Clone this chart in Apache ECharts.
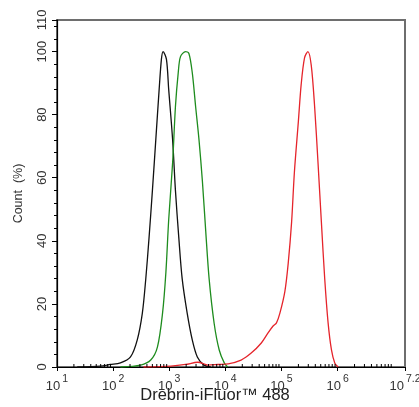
<!DOCTYPE html>
<html>
<head>
<meta charset="utf-8">
<script src="https://cdn.jsdelivr.net/npm/echarts@6/dist/echarts.min.js"></script>
<style>html,body{margin:0;padding:0;background:#fff;}#c{width:419px;height:407px;}</style>
</head>
<body>
<div id="c"></div>
<script>
// x values are log10(fluorescence intensity)
var blackX = [1.36,1.77,1.95,2.13,2.31,2.43,2.52,2.58,2.64,2.70,2.76,2.82,2.86,2.89,2.95,2.99,3.06,3.11,3.17,3.23,3.32,3.41,3.50,3.62,3.74];
var blackY = [0,0.3,0.8,1.3,3.2,8.6,17,27.6,41,56,72,88,97.5,100,97.5,88,72,56,41,28,17,8.6,3.2,0.6,0];
var greenX = [2.13,2.49,2.67,2.79,2.88,2.94,2.99,3.06,3.11,3.16,3.20,3.29,3.35,3.41,3.47,3.53,3.59,3.65,3.71,3.80,3.89,3.98,4.04];
var greenY = [0,0.6,2.2,6.4,17,30,46.7,64.8,82.5,93.3,98.4,100,99.4,93.3,82.5,72,59,43,28,13.8,5.4,1.3,0];
var redX = [2.54,3.03,3.29,3.51,3.69,3.87,4.05,4.28,4.46,4.64,4.76,4.85,4.91,4.97,5.06,5.12,5.18,5.23,5.30,5.35,5.41,5.47,5.53,5.59,5.65,5.71,5.77,5.83,5.89,5.95,6.01];
var redY = [0,0.3,0.8,1.5,0.6,0.8,1.0,2.2,4.4,7.6,10.8,13,14,17,24,33,46,61.9,77.8,89.5,98,100,95.6,82.5,64.8,46,27.9,14,5.4,1.2,0];
var xTickExps = [1,2,3,4,5,6,7.2];
var yTicks = [0,20,40,60,80,100,110];
var xMinorTicks = [];
for (var n = 1; n <= 7; n++) {
  for (var k = 2; k <= 9; k++) {
    var v = n + Math.log10(k);
    if (v < 7.2) xMinorTicks.push(v);
  }
}

function pairs(xs, ys) { return xs.map(function (x, i) { return [x, ys[i]]; }); }

var chart = echarts.init(document.getElementById('c'));
var font = 'Liberation Sans, Arial, sans-serif';
chart.setOption({
  animation: false,
  grid: { left: 57, right: 14, top: 20, bottom: 40, show: true, borderColor: '#6e6e6e', borderWidth: 2, outerBoundsMode: 'none', containLabel: false },
  xAxis: {
    type: 'value', min: 1, max: 7.2,
    name: 'Drebrin-iFluor™ 488', nameLocation: 'middle', nameGap: 28, nameMoveOverlap: false,
    nameTextStyle: { fontFamily: font, fontSize: 16.5, color: '#222', padding: [0, 32, 0, 0], verticalAlign: 'middle' },
    axisLine: { onZero: false, lineStyle: { color: '#000', width: 1.2 } },
    axisTick: { show: true, length: 4, customValues: xTickExps, lineStyle: { color: '#000' } },
    splitLine: { show: false },
    axisLabel: {
      margin: 7,
      customValues: xTickExps,
      showMinLabel: true, showMaxLabel: true, hideOverlap: false,
      formatter: function (v) {
        var s = String(+(+v).toFixed(1));
        return '{b|10}{s|' + s + '}';
      },
      rich: {
        b: { fontFamily: font, fontSize: 13, color: '#333', padding: [6, 0, 0, 0] },
        s: { fontFamily: font, fontSize: 10.5, color: '#333', verticalAlign: 'top', padding: [0, 0, 0, 2] }
      }
    }
  },
  yAxis: {
    type: 'value', min: 0, max: 110, interval: 20,
    name: 'Count  (%)', nameLocation: 'middle', nameGap: 32,
    nameTextStyle: { fontFamily: font, fontSize: 12.5, color: '#333' },
    axisLine: { show: true, lineStyle: { color: '#000', width: 1.2 } },
    axisTick: { show: true, length: 5, lineStyle: { color: '#000' } },
    minorTick: { show: true, splitNumber: 5, length: 3, lineStyle: { color: '#000' } },
    splitLine: { show: false },
    axisLabel: { rotate: 90, fontFamily: font, fontSize: 13, color: '#333', margin: 8 }
  },
  series: [
    { type: 'line', data: pairs(blackX, blackY), smooth: 0.3, showSymbol: false, lineStyle: { color: '#111', width: 1.3 }, z: 3 },
    { type: 'line', data: pairs(greenX, greenY), smooth: 0.3, showSymbol: false, lineStyle: { color: '#1e8c1e', width: 1.3 }, z: 3 },
    { type: 'line', data: pairs(redX, redY), smooth: 0.3, showSymbol: false, lineStyle: { color: '#e5242b', width: 1.3 }, z: 3 },
    {
      type: 'custom', data: xMinorTicks.map(function (v) { return [v, 0]; }), clip: false, silent: true, z: 4,
      renderItem: function (params, api) {
        var p = api.coord([api.value(0), 0]);
        return { type: 'line', shape: { x1: p[0], y1: p[1] - 3, x2: p[0], y2: p[1] }, style: { stroke: '#000', lineWidth: 1 } };
      }
    }
  ]
});
</script>
</body>
</html>
